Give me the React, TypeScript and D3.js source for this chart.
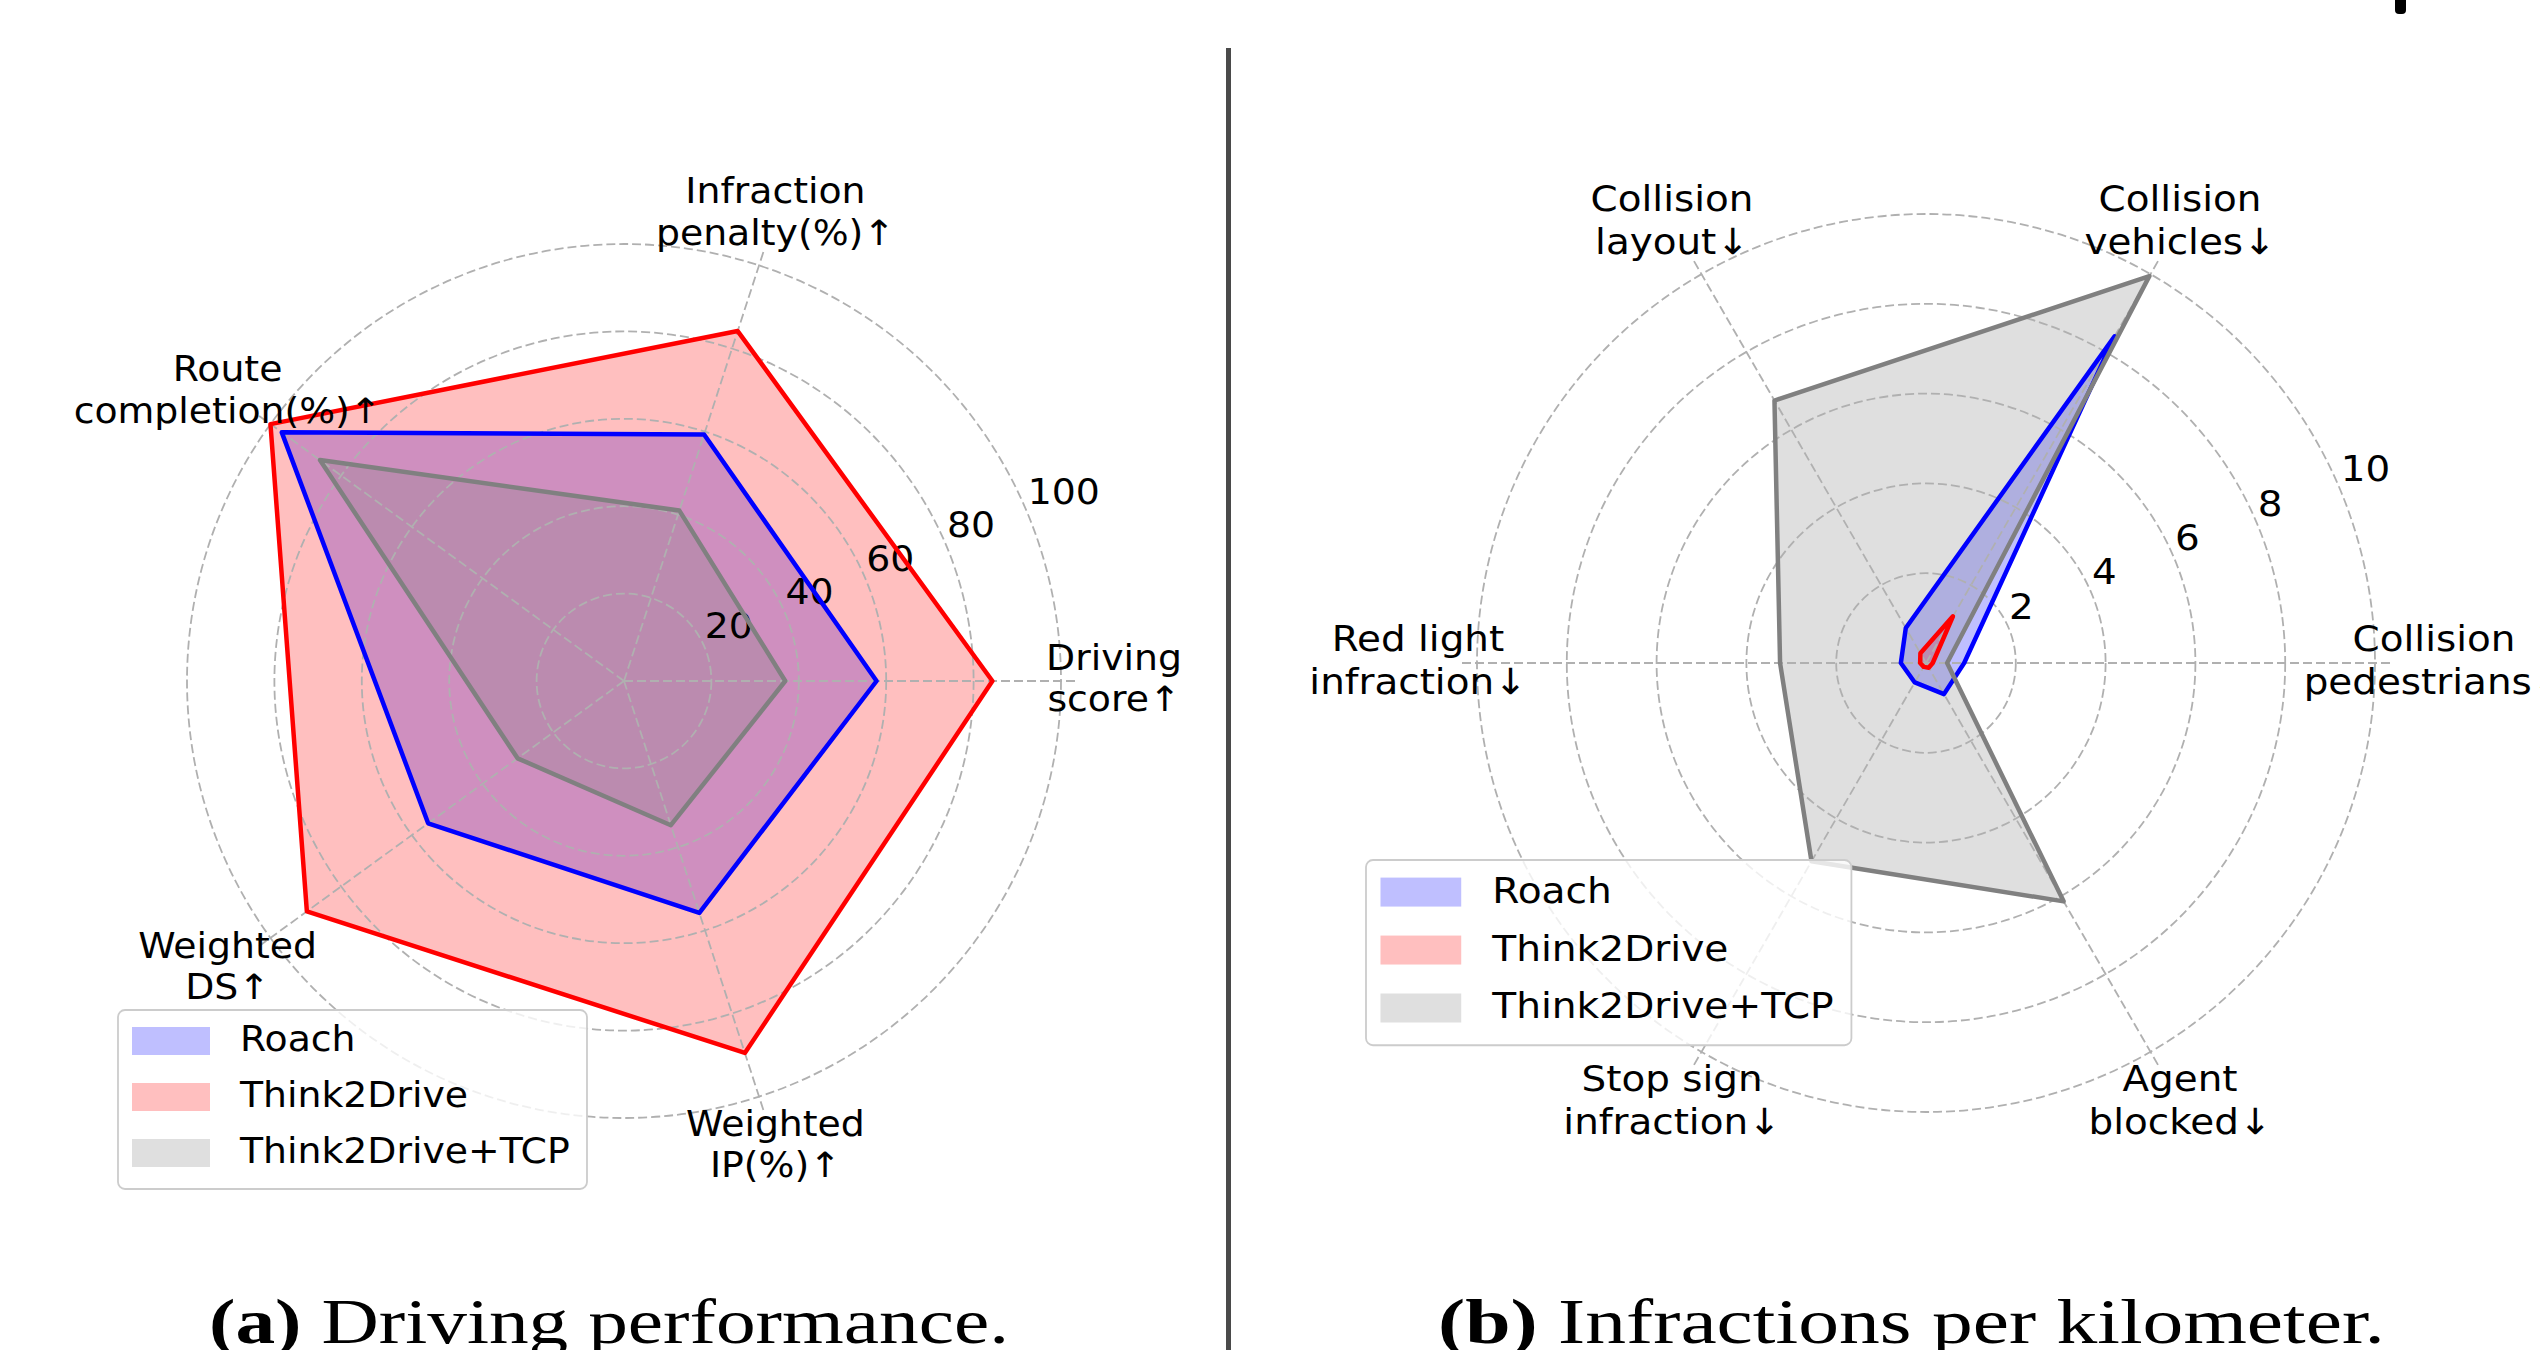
import React from 'react';
import * as d3 from 'd3';

// (a) driving performance, higher is better
const perfAxes = ['Driving\nscore↑', 'Infraction\npenalty(%)↑', 'Route\ncompletion(%)↑', 'Weighted\nDS↑', 'Weighted\nIP(%)↑'];
const perfRoach = [57.8, 59.3, 96.8, 55.4, 55.8];
const perfThink2Drive = [84.3, 84.2, 100, 89.7, 89.5];
const perfTcp = [36.9, 41.0, 86.0, 30.1, 34.7];
const perfTicks = [20, 40, 60, 80, 100];

// (b) infractions per km, lower is better
const infAxes = ['Collision\npedestrians↓', 'Collision\nvehicles↓', 'Collision\nlayout↓', 'Red light\ninfraction↓', 'Stop sign\ninfraction↓', 'Agent\nblocked↓'];
const infRoach = [0.85, 8.4, 0.9, 0.56, 0.5, 0.8];
const infThink2Drive = [0.15, 1.2, 0.25, 0.13, 0.1, 0.12];
const infTcp = [0.47, 9.95, 6.75, 3.25, 5.1, 6.13];
const infTicks = [2, 4, 6, 8, 10];

const seriesNames = ['Roach', 'Think2Drive', 'Think2Drive+TCP'];
const seriesColors = ['#0000ff', '#ff0000', '#808080'];

const SANS = 'DejaVu Sans, Verdana, sans-serif';
const GRID = '#b0b0b0';
const SX = 1.08; // text in the source renders a bit wider than DejaVu at the same height

interface RadarProps {
  cx: number;
  cy: number;
  pxPerUnit: number;
  rMax: number;
  ticks: number[];
  axes: string[];
  series: number[][];
  labelR: number;
  fontSize: number;
}

const Radar: React.FC<RadarProps> = ({ cx, cy, pxPerUnit, rMax, ticks, axes, series, labelR, fontSize }) => {
  const n = axes.length;
  const r = d3.scaleLinear().domain([0, rMax]).range([0, rMax * pxPerUnit]);
  const theta = (i: number) => (i * 2 * Math.PI) / n;
  const line = d3.lineRadial<number>()
    .angle((_, i) => Math.PI / 2 - theta(i))
    .radius(d => r(d))
    .curve(d3.curveLinearClosed);
  const lw = 4.5;
  const lineH = fontSize * 1.2;
  const tickAngle = (22.5 * Math.PI) / 180;

  return (
    <g transform={`translate(${cx},${cy})`}>
      {/* fills */}
      {series.map((s, k) => (
        <path key={`f${k}`} d={line(s) || ''} fill={seriesColors[k]} fillOpacity={0.25} stroke="none" />
      ))}
      {/* grid */}
      {ticks.map(t => (
        <circle key={`c${t}`} r={r(t)} fill="none" stroke={GRID} strokeWidth={1.8} strokeDasharray="9 4" />
      ))}
      {axes.map((_, i) => (
        <line key={`a${i}`} x1={0} y1={0}
          x2={r(rMax) * Math.cos(theta(i))} y2={-r(rMax) * Math.sin(theta(i))}
          stroke={GRID} strokeWidth={1.8} strokeDasharray="9 4" />
      ))}
      {/* radial tick labels */}
      {ticks.map(t => (
        <g key={`t${t}`} transform={`translate(${r(t) * Math.cos(tickAngle)},${-r(t) * Math.sin(tickAngle) - 10}) scale(${SX},1)`}>
          <text x={0} y={0} fontFamily={SANS} fontSize={fontSize} fill="#000">{t}</text>
        </g>
      ))}
      {/* outlines */}
      {series.map((s, k) => (
        <path key={`l${k}`} d={line(s) || ''} fill="none" stroke={seriesColors[k]} strokeWidth={lw} strokeLinejoin="round" />
      ))}
      {/* category labels */}
      {axes.map((a, i) => {
        const lx = labelR * Math.cos(theta(i));
        const ly = -labelR * Math.sin(theta(i)) - 3;
        const parts = a.split('\n');
        return (
          <g key={`lab${i}`} transform={`translate(${lx},${ly}) scale(${SX},1)`}>
            <text x={0} y={-((parts.length - 1) * lineH) / 2}
              fontFamily={SANS} fontSize={fontSize} textAnchor="middle" dominantBaseline="central" fill="#000">
              {parts.map((p, j) => (
                <tspan key={j} x={0} dy={j === 0 ? 0 : lineH}>{p}</tspan>
              ))}
            </text>
          </g>
        );
      })}
    </g>
  );
};

const Legend: React.FC<{ x: number; y: number; s: number }> = ({ x, y, s }) => {
  const w = 469 * s;
  const h = 179 * s;
  return (
    <g transform={`translate(${x},${y})`}>
      <rect x={0} y={0} width={w} height={h} rx={7} fill="#fff" fillOpacity={0.8} stroke="#cccccc" strokeWidth={1.8} />
      {seriesNames.map((name, k) => {
        const rowY = (31 + k * 56) * s;
        return (
          <g key={name}>
            <rect x={14 * s} y={rowY - 14 * s} width={78 * s} height={28 * s} fill={seriesColors[k]} fillOpacity={0.25} />
            <g transform={`translate(${122 * s},${rowY - 2}) scale(${SX},1)`}>
              <text x={0} y={0} dominantBaseline="central" fontFamily={SANS} fontSize={35 * s} fill="#000">{name}</text>
            </g>
          </g>
        );
      })}
    </g>
  );
};

export default function App() {
  return (
    <svg width={2540} height={1350} viewBox="0 0 2540 1350"
      style={{ position: 'absolute', left: 0, top: 0, background: '#fff', overflow: 'hidden' }}>
      <rect x={0} y={0} width={2540} height={1350} fill="#fff" />

      <Radar cx={624} cy={681} pxPerUnit={4.37} rMax={103.5} ticks={perfTicks} axes={perfAxes}
        series={[perfRoach, perfThink2Drive, perfTcp]} labelR={490} fontSize={35} />
      <Legend x={118} y={1010} s={1} />

      <Radar cx={1926} cy={663} pxPerUnit={44.9} rMax={10.4} ticks={infTicks} axes={infAxes}
        series={[infRoach, infThink2Drive, infTcp]} labelR={508} fontSize={36} />
      <Legend x={1366} y={860} s={1.035} />

      {/* divider between subfigures */}
      <line x1={1228.5} y1={48} x2={1228.5} y2={1350} stroke="#4a4a4a" strokeWidth={5} />
      <rect x={2395} y={-6} width={11} height={20} rx={4} fill="#000" />

      <text x={209} y={1343} fontFamily="Liberation Serif, Times New Roman, serif" fontSize={64} fill="#000"
        textLength={800} lengthAdjust="spacingAndGlyphs">
        <tspan fontWeight="bold">(a)</tspan> Driving performance.
      </text>
      <text x={1438} y={1343} fontFamily="Liberation Serif, Times New Roman, serif" fontSize={64} fill="#000"
        textLength={947} lengthAdjust="spacingAndGlyphs">
        <tspan fontWeight="bold">(b)</tspan> Infractions per kilometer.
      </text>
    </svg>
  );
}
